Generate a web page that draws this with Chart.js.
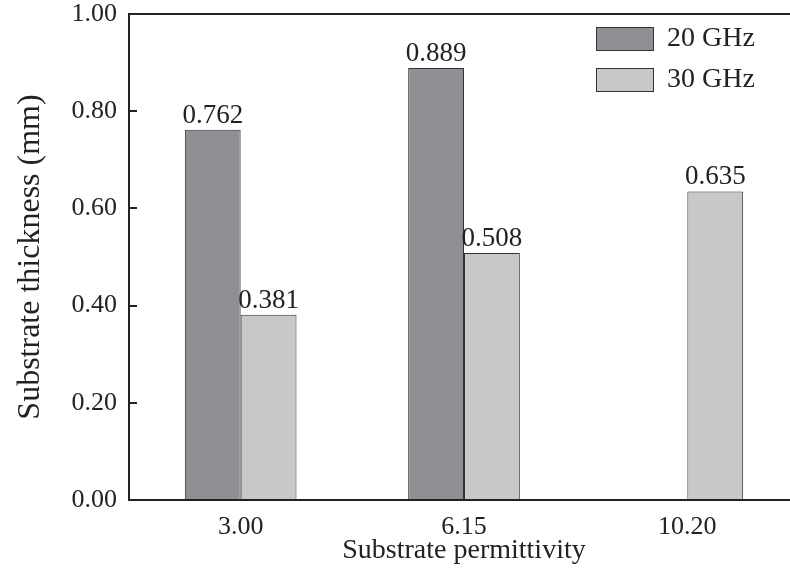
<!DOCTYPE html>
<html>
<head>
<meta charset="utf-8">
<script src="https://cdn.jsdelivr.net/npm/chart.js@4/dist/chart.umd.min.js"></script>
<style>
  html, body { margin: 0; padding: 0; background: #fff; overflow: hidden; }
  #wrap { width: 790px; height: 569px; overflow: hidden; }
  #box { width: 810px; height: 569px; }
</style>
</head>
<body>
<div id="wrap"><div id="box"><canvas id="grafica"></canvas></div></div>
<script>
const permitividades = ["3.00", "6.15", "10.20"];
const espesor20 = [0.762, 0.889, null];
const espesor30 = [0.381, 0.508, 0.635];
const series = ["20 GHz", "30 GHz"];
const marcasY = [0, 0.2, 0.4, 0.6, 0.8, 1.0];

const fuente = "'Liberation Serif', 'Times New Roman', serif";
const colores = ["#8f9094", "#c7c8ca"];

// etiquetas de valor, borde superior y leyenda
const extras = {
  id: "extras",
  afterDatasetsDraw(chart) {
    const ctx = chart.ctx;
    const area = chart.chartArea;
    ctx.save();
    ctx.font = "27px " + fuente;
    ctx.fillStyle = "#222";
    ctx.textAlign = "center";
    ctx.textBaseline = "alphabetic";
    chart.data.datasets.forEach((ds, i) => {
      chart.getDatasetMeta(i).data.forEach((bar, j) => {
        const v = ds.data[j];
        if (v === null) return;
        ctx.fillText(v.toFixed(3), bar.x, bar.y - 7);
      });
    });

    ctx.strokeStyle = "#222";
    ctx.lineWidth = 2;
    ctx.beginPath();
    ctx.moveTo(area.left, area.top);
    ctx.lineTo(chart.width, area.top);
    ctx.stroke();

    ctx.font = "28px " + fuente;
    ctx.textAlign = "left";
    ctx.textBaseline = "middle";
    series.forEach((s, i) => {
      const y = 27 + i * 41;
      ctx.fillStyle = colores[i];
      ctx.fillRect(596, y, 57, 23);
      ctx.lineWidth = 1;
      ctx.strokeStyle = "#333";
      ctx.strokeRect(596.5, y + 0.5, 57, 23);
      ctx.fillStyle = "#222";
      ctx.fillText(s, 667, y + 12);
    });
    ctx.restore();
  }
};

new Chart(document.getElementById("grafica"), {
  type: "bar",
  data: {
    labels: permitividades,
    datasets: [
      { label: series[0], data: espesor20, backgroundColor: colores[0], borderColor: "#333", borderWidth: 1 },
      { label: series[1], data: espesor30, backgroundColor: colores[1], borderColor: "#333", borderWidth: 1 }
    ]
  },
  options: {
    responsive: true,
    maintainAspectRatio: false,
    animation: false,
    layout: { padding: { top: 14, right: 11, left: 0, bottom: 0 } },
    datasets: { bar: { barPercentage: 1, categoryPercentage: 0.5 } },
    plugins: { legend: { display: false }, tooltip: { enabled: false } },
    scales: {
      x: {
        grid: { display: false },
        border: { display: true, color: "#222", width: 2 },
        ticks: { color: "#222", font: { family: fuente, size: 26 }, padding: 4 },
        title: { display: true, text: "Substrate permittivity", color: "#222", font: { family: fuente, size: 28 }, padding: { top: 0, bottom: 2 } },
        afterFit: s => { s.height = 69; s.paddingLeft = 0; s.paddingRight = 0; }
      },
      y: {
        min: 0,
        max: 1,
        afterBuildTicks: s => { s.ticks = marcasY.map(v => ({ value: v })); },
        grid: { drawOnChartArea: false, drawTicks: true, tickLength: -8, color: "#222", lineWidth: 2 },
        border: { display: true, color: "#222", width: 2 },
        ticks: { color: "#222", font: { family: fuente, size: 26 }, padding: 20, callback: v => Number(v).toFixed(2) },
        title: { display: true, text: "Substrate thickness (mm)", color: "#222", font: { family: fuente, size: 32 }, padding: { top: 11, bottom: 0 } },
        afterFit: s => { s.width = 129; s.paddingTop = 0; s.paddingBottom = 0; }
      }
    }
  },
  plugins: [extras]
});
</script>
</body>
</html>
